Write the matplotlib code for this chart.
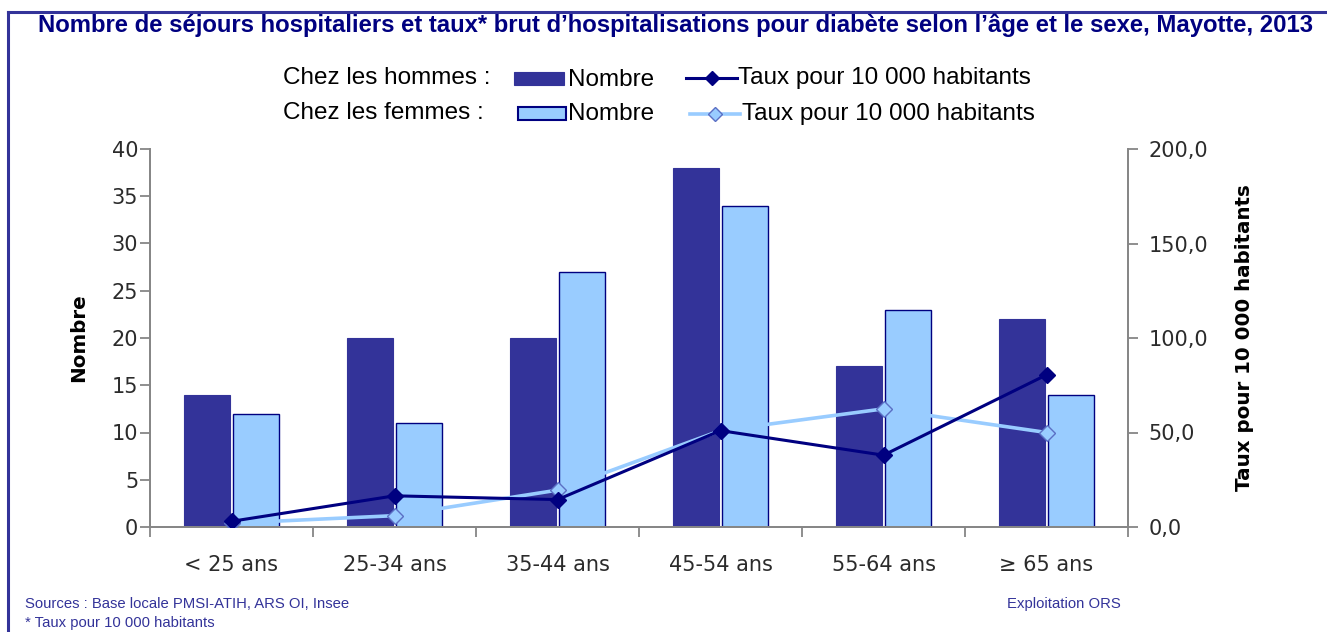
import matplotlib
matplotlib.use("Agg")
import matplotlib.pyplot as plt
from matplotlib.patches import Rectangle
from matplotlib.lines import Line2D
import numpy as np

categories = ["< 25 ans", "25-34 ans", "35-44 ans", "45-54 ans", "55-64 ans", "≥ 65 ans"]
nombre_hommes = [14, 20, 20, 38, 17, 22]
nombre_femmes = [12, 11, 27, 34, 23, 14]
taux_hommes = [3.0, 16.5, 14.5, 51.0, 38.0, 80.5]
taux_femmes = [2.0, 6.0, 19.5, 51.0, 62.5, 50.0]

W, H = 1327, 632
fig = plt.figure(figsize=(W / 100, H / 100), dpi=100)

DARK = "#333399"
LIGHT = "#99CCFF"
NAVY = "#000080"
GRAY = "#868686"
TXT = "#2b2b2b"

def px(x, y):
    return x / W, 1 - y / H

# frame
fig.add_artist(Line2D([8 / W, 1], [1 - 12 / H] * 2, color=DARK, lw=2.2, transform=fig.transFigure))
fig.add_artist(Line2D([8 / W] * 2, [0, 1 - 12 / H], color=DARK, lw=2.2, transform=fig.transFigure))

# title
fig.text(*px(675, 25), "Nombre de séjours hospitaliers et taux* brut d’hospitalisations pour diabète selon l’âge et le sexe, Mayotte, 2013",
         ha="center", va="center", fontsize=17.2, fontweight="bold", color=NAVY, family="Liberation Sans")

ax = fig.add_axes([150 / W, 1 - 527 / H, (1128 - 150) / W, (527 - 149) / H])
ax2 = ax.twinx()

x = np.arange(len(categories))
bw = 0.28
ax.bar(x - bw / 2 - 0.01, nombre_hommes, bw, color=DARK, edgecolor=DARK, linewidth=0.8, zorder=2)
ax.bar(x + bw / 2 + 0.01, nombre_femmes, bw, color=LIGHT, edgecolor=NAVY, linewidth=1.0, zorder=2)

ax2.plot(x, taux_femmes, color=LIGHT, lw=2.6, marker="D", markersize=8, markerfacecolor=LIGHT,
         markeredgecolor="#5B6FC4", markeredgewidth=1.0, zorder=3)
ax2.plot(x, taux_hommes, color=NAVY, lw=2.2, marker="D", markersize=8, markerfacecolor=NAVY,
         markeredgecolor=NAVY, zorder=4)

ax.set_xlim(-0.5, len(categories) - 0.5)
ax.set_ylim(0, 40)
ax2.set_ylim(0, 200)
ax.set_yticks(range(0, 41, 5))
ax2.set_yticks(range(0, 201, 50))
ax2.set_yticklabels([f"{v},0" for v in range(0, 201, 50)])

ax.set_xticks(np.arange(-0.5, len(categories), 1.0))
ax.set_xticklabels([])
ax.set_xticks(x, minor=True)
ax.set_xticklabels(categories, minor=True)
ax.tick_params(axis="x", which="minor", length=0, pad=20, labelsize=15, labelcolor=TXT)
ax.tick_params(axis="x", which="major", length=7, color=GRAY, width=1.3)
ax.tick_params(axis="y", length=7, color=GRAY, width=1.3, labelsize=15, labelcolor=TXT, pad=1.5)
ax2.tick_params(axis="y", length=7, color=GRAY, width=1.3, labelsize=15, labelcolor=TXT, pad=8)

for a in (ax, ax2):
    a.spines["top"].set_visible(False)
    for s in ("left", "right", "bottom"):
        a.spines[s].set_color(GRAY)
        a.spines[s].set_linewidth(1.3)

ax.set_ylabel("Nombre", fontsize=14.3, fontweight="bold", labelpad=17, color="black")
ax2.set_ylabel("Taux pour 10 000 habitants", fontsize=14.3, fontweight="bold", labelpad=19, color="black", rotation=90)

# legend
lf = dict(fontsize=17.5, family="Liberation Sans", va="center", color="black")
fig.text(*px(283, 78), "Chez les hommes :", **lf)
fig.text(*px(283, 113), "Chez les femmes :", **lf)
fig.add_artist(Rectangle(px(514, 85), 50 / W, 13 / H, transform=fig.transFigure, facecolor=DARK, edgecolor=DARK, lw=0.8))
fig.add_artist(Rectangle(px(518, 120), 48 / W, 13 / H, transform=fig.transFigure, facecolor=LIGHT, edgecolor=NAVY, lw=1.5))
fig.text(*px(568, 80), "Nombre", **lf)
fig.text(*px(568, 114), "Nombre", **lf)
x0, y0 = px(686, 78); x1, _ = px(737, 78)
fig.add_artist(Line2D([x0, x1], [y0, y0], color=NAVY, lw=2.2, transform=fig.transFigure))
fig.add_artist(Line2D([(x0 + x1) / 2], [y0], marker="D", markersize=7, color=NAVY, transform=fig.transFigure))
x0, y0 = px(690, 114); x1, _ = px(740, 114)
fig.add_artist(Line2D([x0, x1], [y0, y0], color=LIGHT, lw=2.6, transform=fig.transFigure))
fig.add_artist(Line2D([(x0 + x1) / 2], [y0], marker="D", markersize=7, markerfacecolor=LIGHT,
                      markeredgecolor="#5B6FC4", color=LIGHT, transform=fig.transFigure))
fig.text(*px(738, 78), "Taux pour 10 000 habitants", **lf)
fig.text(*px(742, 114), "Taux pour 10 000 habitants", **lf)

# footer
ff = dict(fontsize=10.7, family="Liberation Sans", va="center", color=DARK)
fig.text(*px(25, 604), "Sources : Base locale PMSI-ATIH, ARS OI, Insee", **ff)
fig.text(*px(1007, 604), "Exploitation ORS", **ff)
fig.text(*px(25, 623), "* Taux pour 10 000 habitants", **ff)

fig.savefig("out.png", dpi=100)
